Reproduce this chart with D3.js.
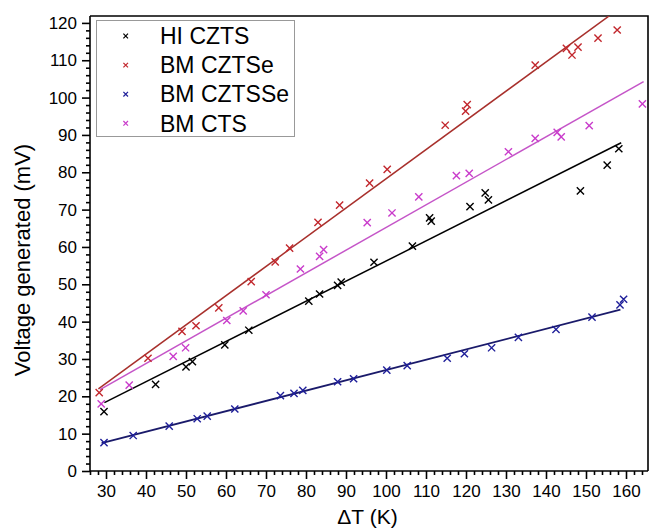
<!DOCTYPE html>
<html>
<head>
<meta charset="utf-8">
<script src="https://d3js.org/d3.v7.min.js"></script>
<style>
    body { margin: 0; background: #fff; }
    text { font-family: "Liberation Sans", Arial, sans-serif; fill: #000; }
</style>
</head>
<body>
<script>
// values
var seriesNames = ["HI CZTS", "BM CZTSe", "BM CZTSSe", "BM CTS"];

var hiCztsX = [29.5, 42.4, 50.0, 51.6, 59.7, 65.7, 80.7, 83.4, 87.9, 88.8, 97.0, 106.6, 110.9, 111.3, 121.0, 124.8, 125.6, 148.6, 155.3, 158.2];
var hiCztsY = [15.9, 23.2, 27.9, 29.3, 33.8, 37.7, 45.5, 47.4, 49.7, 50.6, 55.9, 60.2, 67.8, 66.9, 70.8, 74.5, 72.6, 75.0, 81.9, 86.3];

var bmCztseX = [28.3, 40.5, 49.0, 52.5, 58.2, 66.3, 72.3, 75.9, 83.0, 88.4, 95.9, 100.3, 114.8, 119.9, 120.3, 137.3, 145.1, 146.5, 148.0, 153.0, 157.8];
var bmCztseY = [21.0, 30.2, 37.4, 38.9, 43.7, 50.7, 56.0, 59.7, 66.6, 71.2, 77.1, 80.8, 92.6, 96.4, 98.1, 108.7, 113.2, 111.4, 113.5, 115.9, 118.1];

var bmCztsseX = [29.5, 36.8, 45.8, 52.8, 55.3, 62.2, 73.6, 77.0, 79.2, 87.9, 91.9, 100.2, 105.3, 115.3, 119.6, 126.4, 133.1, 142.5, 151.5, 158.5, 159.4];
var bmCztsseY = [7.6, 9.5, 12.0, 14.0, 14.7, 16.6, 20.2, 20.8, 21.6, 23.9, 24.7, 27.0, 28.2, 30.2, 31.4, 33.0, 35.8, 37.9, 41.2, 44.5, 46.0];

var bmCtsX = [28.8, 35.8, 46.8, 49.9, 60.2, 64.3, 70.0, 78.6, 83.4, 84.4, 95.3, 101.5, 108.2, 117.6, 120.8, 130.6, 137.3, 142.8, 143.8, 150.8, 164.1];
var bmCtsY = [18.0, 23.0, 30.7, 33.0, 40.3, 42.9, 47.2, 54.1, 57.5, 59.3, 66.5, 69.1, 73.4, 79.1, 79.7, 85.5, 89.1, 90.7, 89.5, 92.5, 98.3];

// linear fit end points (start x, end x / start y, end y), same order as seriesNames
var fitX = [[29.6, 158.8], [28.1, 158.5], [28.9, 158.6], [28.5, 164.4]];
var fitY = [[18.3, 87.9], [22.0, 124.0], [7.45, 43.2], [21.8, 104.3]];

var xTicks = [30, 40, 50, 60, 70, 80, 90, 100, 110, 120, 130, 140, 150, 160];
var yTicks = [0, 10, 20, 30, 40, 50, 60, 70, 80, 90, 100, 110, 120];

(function() {
    var width = 650,
        height = 531,
        left = 90,
        right = 648,
        top = 16,
        bottom = 471,
        markerColors = ["#000000", "#c2272d", "#1f1f9a", "#c93ccb"],
        lineColors = ["#000000", "#a8302c", "#1a1a6a", "#c555c8"],
        allX = [hiCztsX, bmCztseX, bmCztsseX, bmCtsX],
        allY = [hiCztsY, bmCztseY, bmCztsseY, bmCtsY];

    var x = d3.scaleLinear().domain([26, 165.5]).range([left, right]),
        y = d3.scaleLinear().domain([0, 121.85]).range([bottom, top]);

    var svg = d3.select("body").append("svg")
                .attr("width", width)
                .attr("height", height);

    svg.append("clipPath")
       .attr("id", "plotClip")
       .append("rect")
       .attr("x", left)
       .attr("y", top)
       .attr("width", right - left)
       .attr("height", bottom - top);

    // frame (top + right), axes drawn separately
    svg.append("path")
       .attr("d", "M" + left + "," + top + "H" + right + "V" + bottom)
       .style("fill", "none")
       .style("stroke", "#000")
       .style("stroke-width", 1.6);

    // minor ticks every 2 units
    var xMinor = d3.range(26, 166, 2).filter(function(v) { return v % 10 !== 0; }),
        yMinor = d3.range(2, 122, 2).filter(function(v) { return v % 10 !== 0; });

    var xAxis = svg.append("g")
                   .attr("transform", "translate(0," + bottom + ")")
                   .call(d3.axisBottom(x).tickValues(xTicks).tickSize(8).tickPadding(6).tickSizeOuter(0));
    xAxis.selectAll(".tick text").style("font-size", "17px");

    svg.append("g")
       .attr("transform", "translate(0," + bottom + ")")
       .call(d3.axisBottom(x).tickValues(xMinor).tickSize(4).tickFormat("").tickSizeOuter(0))
       .select(".domain").remove();

    var yAxis = svg.append("g")
                   .attr("transform", "translate(" + left + ",0)")
                   .call(d3.axisLeft(y).tickValues(yTicks).tickSize(8).tickPadding(5).tickSizeOuter(0));
    yAxis.selectAll(".tick text").style("font-size", "17px");

    svg.append("g")
       .attr("transform", "translate(" + left + ",0)")
       .call(d3.axisLeft(y).tickValues(yMinor).tickSize(4).tickFormat("").tickSizeOuter(0))
       .select(".domain").remove();

    svg.selectAll(".domain, .tick line")
       .style("stroke", "#000")
       .style("stroke-width", 1.6);

    // axis lines run the full frame
    xAxis.select(".domain").attr("d", "M" + left + ",0H" + right);
    yAxis.select(".domain").attr("d", "M0," + bottom + "V" + top);

    // fit lines
    var plot = svg.append("g").attr("clip-path", "url(#plotClip)");

    plot.selectAll(".fitLine")
        .data(seriesNames)
        .enter()
        .append("line")
        .attr("class", "fitLine")
        .attr("x1", function(d, i) { return x(fitX[i][0]); })
        .attr("x2", function(d, i) { return x(fitX[i][1]); })
        .attr("y1", function(d, i) { return y(fitY[i][0]); })
        .attr("y2", function(d, i) { return y(fitY[i][1]); })
        .style("stroke", function(d, i) { return lineColors[i]; })
        .style("stroke-width", function(d, i) { return i === 2 ? 1.8 : 1.5; });

    // cross markers
    function cross(s) {
        return "M" + (-s) + "," + (-s) + "L" + s + "," + s + "M" + (-s) + "," + s + "L" + s + "," + (-s);
    }

    seriesNames.forEach(function(name, i) {
        var pts = allX[i].map(function(v, j) { return [v, allY[i][j]]; });
        svg.append("g")
           .selectAll("path")
           .data(pts)
           .enter()
           .append("path")
           .attr("transform", function(d) { return "translate(" + x(d[0]) + "," + y(d[1]) + ")"; })
           .attr("d", cross(3.6))
           .style("fill", "none")
           .style("stroke", markerColors[i])
           .style("stroke-width", 1.4);
    });

    // legend
    var legend = svg.append("g");

    legend.append("rect")
          .attr("x", 96.5)
          .attr("y", 20.5)
          .attr("width", 198)
          .attr("height", 116)
          .style("fill", "#fff")
          .style("stroke", "#999")
          .style("stroke-width", 1);

    var rows = legend.selectAll(".legendRow")
                     .data(seriesNames)
                     .enter()
                     .append("g")
                     .attr("class", "legendRow")
                     .attr("transform", function(d, i) { return "translate(0," + (36 + i * 29.1) + ")"; });

    rows.append("path")
        .attr("transform", "translate(125.7,0)")
        .attr("d", cross(2.3))
        .style("fill", "none")
        .style("stroke", function(d, i) { return markerColors[i]; })
        .style("stroke-width", 1.2);

    rows.append("text")
        .attr("x", 160)
        .attr("dy", "0.36em")
        .style("font-size", "23px")
        .text(function(d) { return d; });

    // axis titles
    svg.append("text")
       .attr("transform", "translate(30,260) rotate(-90)")
       .attr("text-anchor", "middle")
       .style("font-size", "22px")
       .text("Voltage generated (mV)");

    svg.append("text")
       .attr("x", 367.5)
       .attr("y", 524)
       .attr("text-anchor", "middle")
       .style("font-size", "21px")
       .text("ΔT (K)");
})();
</script>
</body>
</html>
